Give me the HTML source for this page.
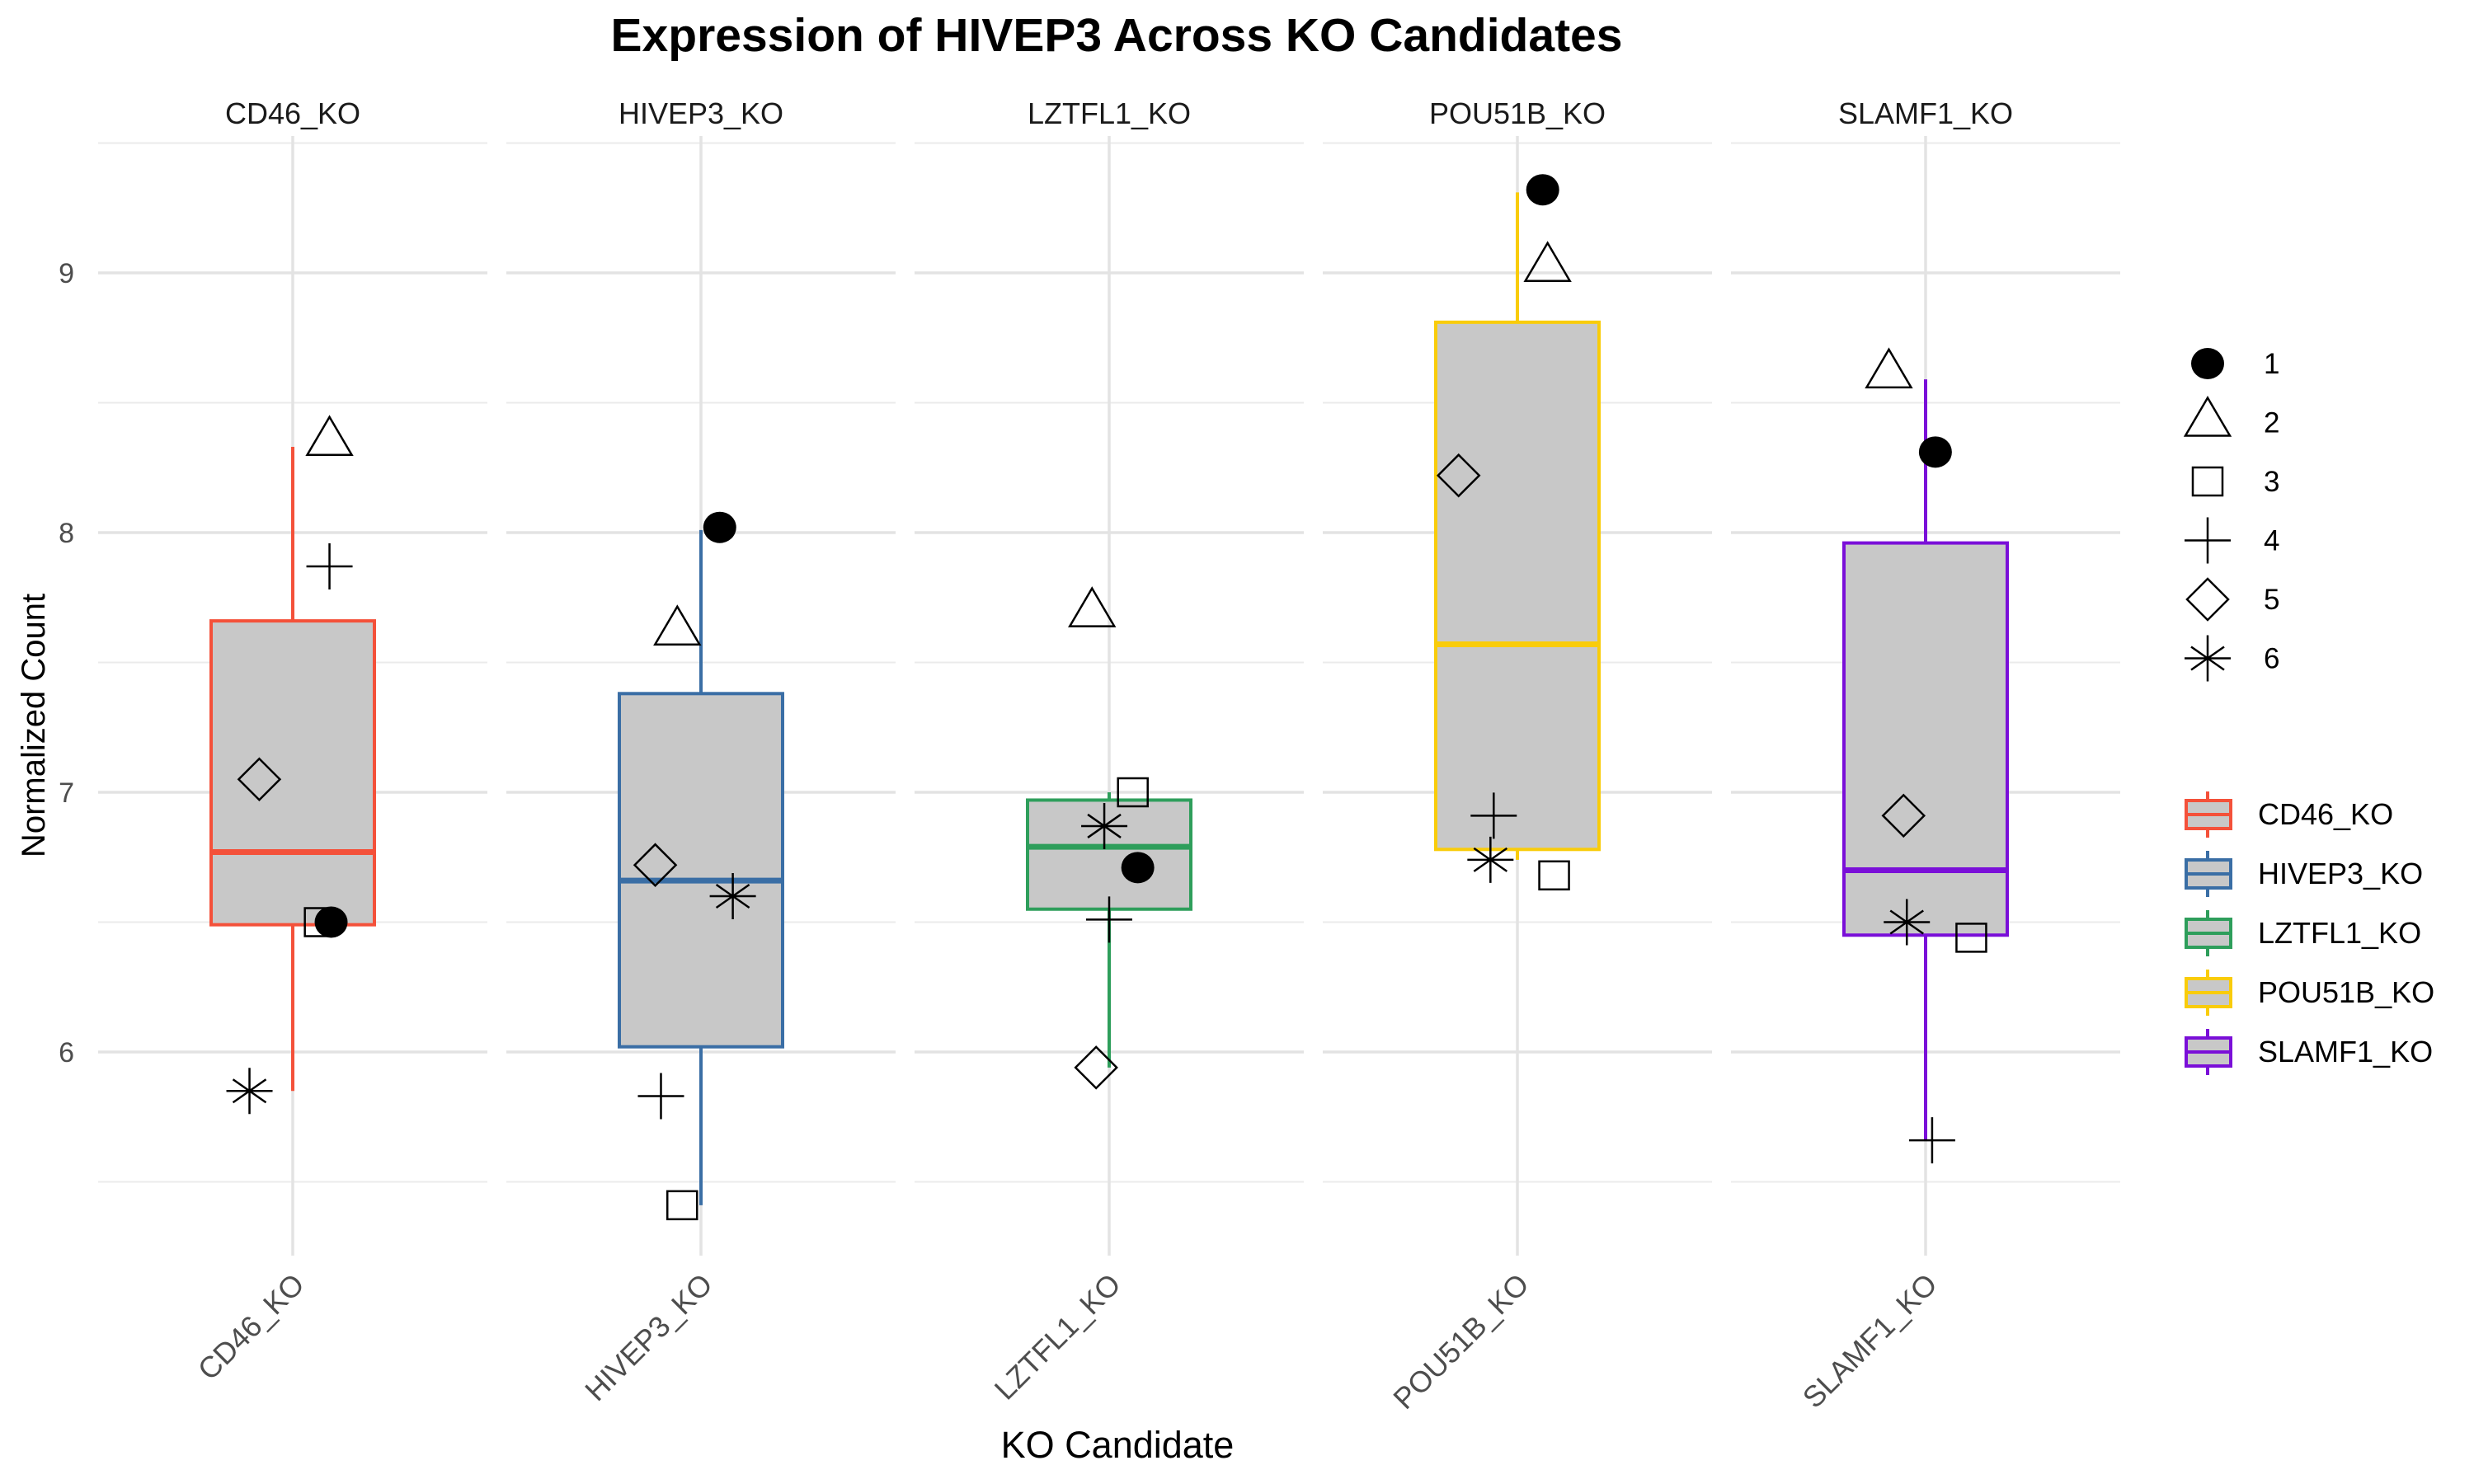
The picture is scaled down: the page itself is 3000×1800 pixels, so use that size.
<!DOCTYPE html>
<html><head><meta charset="utf-8">
<style>
html,body{margin:0;padding:0;background:#fff;}
svg{display:block;font-family:"Liberation Sans",Arial,sans-serif;}
</style></head>
<body>
<svg id="chart" width="3000" height="1800" viewBox="0 0 3000 1800" xmlns="http://www.w3.org/2000/svg">
<text x="1354" y="62" text-anchor="middle" font-size="57" font-weight="bold" fill="#000">Expression of HIVEP3 Across KO Candidates</text>
<text transform="translate(54,880) rotate(-90)" text-anchor="middle" font-size="40" fill="#000">Normalized Count</text>
<text x="1355" y="1780" text-anchor="middle" font-size="45" fill="#000" dy="-12">KO Candidate</text>
<g id="panels"></g>
<g id="legend"></g>
</svg>
<script>
const categories = ["CD46_KO","HIVEP3_KO","LZTFL1_KO","POU51B_KO","SLAMF1_KO"];
const colors = ["#f4513a","#3a6ea5","#2e9e5b","#f9cc0a","#7a0fd8"];
const whiskerLow = [5.85,5.41,5.94,6.74,5.66];
const q1 = [6.49,6.02,6.55,6.78,6.45];
const medians = [6.77,6.66,6.79,7.57,6.70];
const q3 = [7.66,7.38,6.97,8.81,7.96];
const whiskerHigh = [8.33,8.01,7.00,9.31,8.59];
const rep1 = [6.50,8.02,6.71,9.32,8.31];
const rep2 = [8.35,7.62,7.69,9.02,8.61];
const rep3 = [6.50,5.41,7.00,6.68,6.44];
const rep4 = [7.87,5.83,6.51,6.91,5.66];
const rep5 = [7.05,6.72,5.94,8.22,6.91];
const rep6 = [5.85,6.60,6.87,6.74,6.50];
// horizontal jitter as fraction of box half-width
const jit1 = [0.47,0.23,0.35,0.31,0.12];
const jit2 = [0.45,-0.29,-0.21,0.37,-0.45];
const jit3 = [0.33,-0.23,0.29,0.45,0.56];
const jit4 = [0.45,-0.49,0,-0.29,0.08];
const jit5 = [-0.41,-0.56,-0.16,-0.72,-0.27];
const jit6 = [-0.53,0.39,-0.06,-0.33,-0.23];
const yTicks = [6,7,8,9];
const yMinor = [5.5,6.5,7.5,8.5,9.5];

const NS="http://www.w3.org/2000/svg";
const y = v => 331 + (9 - v) * 315;
const cx = i => 355 + i * 495;
const halfPanel = 236, halfBox = 99;
const panelTop = 165, panelBottom = 1523;
function mk(tag, attrs, parent){const e=document.createElementNS(NS,tag);for(const k in attrs)e.setAttribute(k,attrs[k]);parent.appendChild(e);return e;}

function shape(g, k, x, yy){
  const st={fill:"none",stroke:"#000","stroke-width":2.5};
  if(k===0){ return mk("ellipse",{cx:x,cy:yy,rx:20,ry:19,fill:"#000"},g); }
  if(k===1){ return mk("polygon",Object.assign({points:`${x-27},${yy+16} ${x+27},${yy+16} ${x},${yy-30}`},st),g); }
  if(k===2){ return mk("rect",Object.assign({x:x-18,y:yy-17,width:36,height:34},st),g); }
  if(k===3){ return mk("path",Object.assign({d:`M${x-28},${yy}H${x+28}M${x},${yy-28}V${yy+28}`},st),g); }
  if(k===4){ return mk("polygon",Object.assign({points:`${x-25},${yy} ${x},${yy-25} ${x+25},${yy} ${x},${yy+25}`},st),g); }
  return mk("path",Object.assign({d:`M${x-28},${yy}H${x+28}M${x},${yy-28}V${yy+28}M${x-20},${yy-14}L${x+20},${yy+14}M${x-20},${yy+14}L${x+20},${yy-14}`},st),g);
}

const panels=document.getElementById("panels");
const reps=[rep1,rep2,rep3,rep4,rep5,rep6];
const jits=[jit1,jit2,jit3,jit4,jit5,jit6];
categories.forEach((c,i)=>{
  const g=mk("g",{},panels);
  
  
  const x=cx(i), L=x-halfPanel, R=x+halfPanel;
  yMinor.forEach(v=>mk("line",{x1:L,x2:R,y1:y(v),y2:y(v),stroke:"#ebebeb","stroke-width":2},g));
  yTicks.forEach(v=>mk("line",{x1:L,x2:R,y1:y(v),y2:y(v),stroke:"#e3e3e3","stroke-width":3.5},g));
  mk("line",{x1:x,x2:x,y1:panelTop,y2:panelBottom,stroke:"#e3e3e3","stroke-width":3.5},g);
  const st=mk("text",{x:x,y:150,"text-anchor":"middle","font-size":36,fill:"#1a1a1a"},g);
  st.textContent=c;
  
  
  const xl=mk("text",{transform:`translate(${x+16},${1560}) rotate(-45)`,"text-anchor":"end","font-size":36,fill:"#4d4d4d"},g);
  xl.textContent=c;
  
  
  const col=colors[i];
  const box=mk("g",{},g);
  
  
  mk("line",{x1:x,x2:x,y1:y(whiskerHigh[i]),y2:y(q3[i]),stroke:col,"stroke-width":4},box);
  mk("line",{x1:x,x2:x,y1:y(q1[i]),y2:y(whiskerLow[i]),stroke:col,"stroke-width":4},box);
  mk("rect",{x:x-halfBox,y:y(q3[i]),width:2*halfBox,height:y(q1[i])-y(q3[i]),fill:"#c8c8c8",stroke:col,"stroke-width":4},box);
  mk("line",{x1:x-halfBox,x2:x+halfBox,y1:y(medians[i]),y2:y(medians[i]),stroke:col,"stroke-width":7},box);
  reps.forEach((r,k)=>{
    const p=shape(g,k,x+jits[k][i]*halfBox,y(r[i]));
    
    
  });
});
yTicks.forEach(v=>{
  const t=mk("text",{x:90,y:y(v)+12,"text-anchor":"end","font-size":34,fill:"#4d4d4d"},panels);
  t.textContent=v;
  
  
});

const leg=document.getElementById("legend");
for(let k=0;k<6;k++){
  const g=mk("g",{},leg);
  
  
  shape(g,k,2677,441+k*71.5);
  const t=mk("text",{x:2745,y:453+k*71.5,"font-size":35,fill:"#000"},g);
  t.textContent=String(k+1);
}
categories.forEach((c,i)=>{
  const g=mk("g",{},leg);
  
  
  const yy=988+i*72, col=colors[i];
  mk("line",{x1:2677,x2:2677,y1:yy-28,y2:yy+28,stroke:col,"stroke-width":4},g);
  mk("rect",{x:2651,y:yy-17,width:54,height:34,fill:"#c8c8c8",stroke:col,"stroke-width":4},g);
  mk("line",{x1:2651,x2:2705,y1:yy,y2:yy,stroke:col,"stroke-width":4},g);
  const t=mk("text",{x:2738,y:yy+12,"font-size":36,fill:"#000"},g);
  t.textContent=c;
});
</script>
</body></html>
